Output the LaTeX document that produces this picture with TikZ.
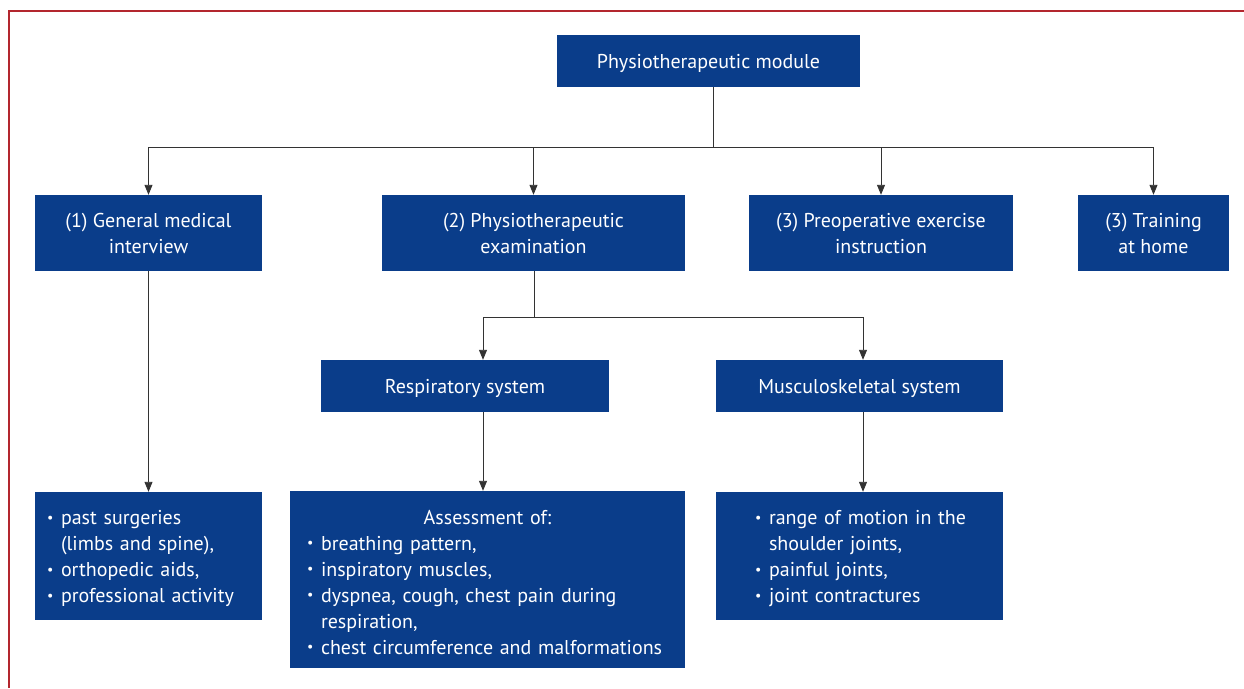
\documentclass[tikz,border=0pt]{standalone}
\usepackage{fontspec}
\setmainfont{PT Sans}
\usetikzlibrary{arrows.meta}
\definecolor{boxblue}{HTML}{0A3D8A}
\definecolor{framered}{HTML}{B3262E}
\definecolor{linegray}{HTML}{333333}
\newcommand\bul{\makebox[14pt][l]{\raisebox{0.12em}{\scalebox{0.7}{\textbullet}}}}
\newcommand\ind{\hspace*{14pt}}
\begin{document}
\begin{tikzpicture}[x=1pt, y=-1pt,
    box/.style={fill=boxblue, text=white, inner sep=0pt, align=center, text depth=0pt,
      font=\fontsize{20}{26}\selectfont},
    listbox/.style={box, align=left, text depth={},
      execute at begin node={\rule{0pt}{20pt}}},
    arr/.style={-{Triangle[length=10pt,width=8pt]}, linegray, line width=0.9pt},
    bus/.style={linegray, line width=0.9pt}]
  \useasboundingbox (0,0) rectangle (1244,688);
  \draw[framered, line width=1.6pt] (9,688) -- (9,11) -- (1244,11);

  \node[box, minimum width=303pt, minimum height=52pt] (top) at (708.5,61) {Physiotherapeutic module};

  \node[box, minimum width=227pt, minimum height=76pt] (gen) at (148.5,233) {(1) General medical\\interview};
  \node[box, minimum width=303pt, minimum height=76pt] (exam) at (533.5,233) {(2) Physiotherapeutic\\examination};
  \node[box, minimum width=264pt, minimum height=76pt] (preop) at (881,233) {(3) Preoperative exercise\\instruction};
  \node[box, minimum width=151pt, minimum height=76pt] (home) at (1153.5,233) {(3) Training\\at home};

  \node[box, minimum width=288pt, minimum height=52pt] (resp) at (465,386) {Respiratory system};
  \node[box, minimum width=287pt, minimum height=52pt] (musc) at (859.5,386) {Musculoskeletal system};

  \node[listbox, text width=203pt, inner xsep=12pt, minimum height=128pt] (genlist) at (148.5,556)
    {\bul past surgeries\\ \ind(limbs and spine),\\ \bul orthopedic aids,\\ \bul professional activity};
  \node[listbox, text width=361pt, inner xsep=17pt, minimum height=177pt] (assess) at (487.5,579.5)
    {\makebox[\linewidth][c]{Assessment of:}\\
     \bul breathing pattern,\\ \bul inspiratory muscles,\\
     \bul dyspnea, cough, chest pain during\\ \ind respiration,\\
     \bul chest circumference and malformations};
  \node[listbox, text width=209pt, inner xsep=39pt, minimum height=128pt] (musclist) at (859.5,556)
    {\mbox{\bul range of motion in the}\\ \ind shoulder joints,\\ \bul painful joints,\\ \bul joint contractures};

  % first level
  \coordinate (j1) at (713,147);
  \draw[bus] (top.south -| j1) -- (j1);
  \foreach \n in {gen,exam,preop,home}
    \draw[arr] (j1) -| (\n.north);

  % examination
  \coordinate (j2) at (534,317);
  \draw[bus] (exam.south -| j2) -- (j2);
  \draw[arr] (j2) -| ([xshift=18pt]resp.north);
  \draw[arr] (j2) -| ([xshift=3.5pt]musc.north);

  % details
  \draw[arr] (gen) -- (genlist);
  \draw[arr] ([xshift=18pt]resp.south) -- ([xshift=18pt]resp.south |- assess.north);
  \draw[arr] ([xshift=3.5pt]musc.south) -- ([xshift=3.5pt]musc.south |- musclist.north);
\end{tikzpicture}
\end{document}
